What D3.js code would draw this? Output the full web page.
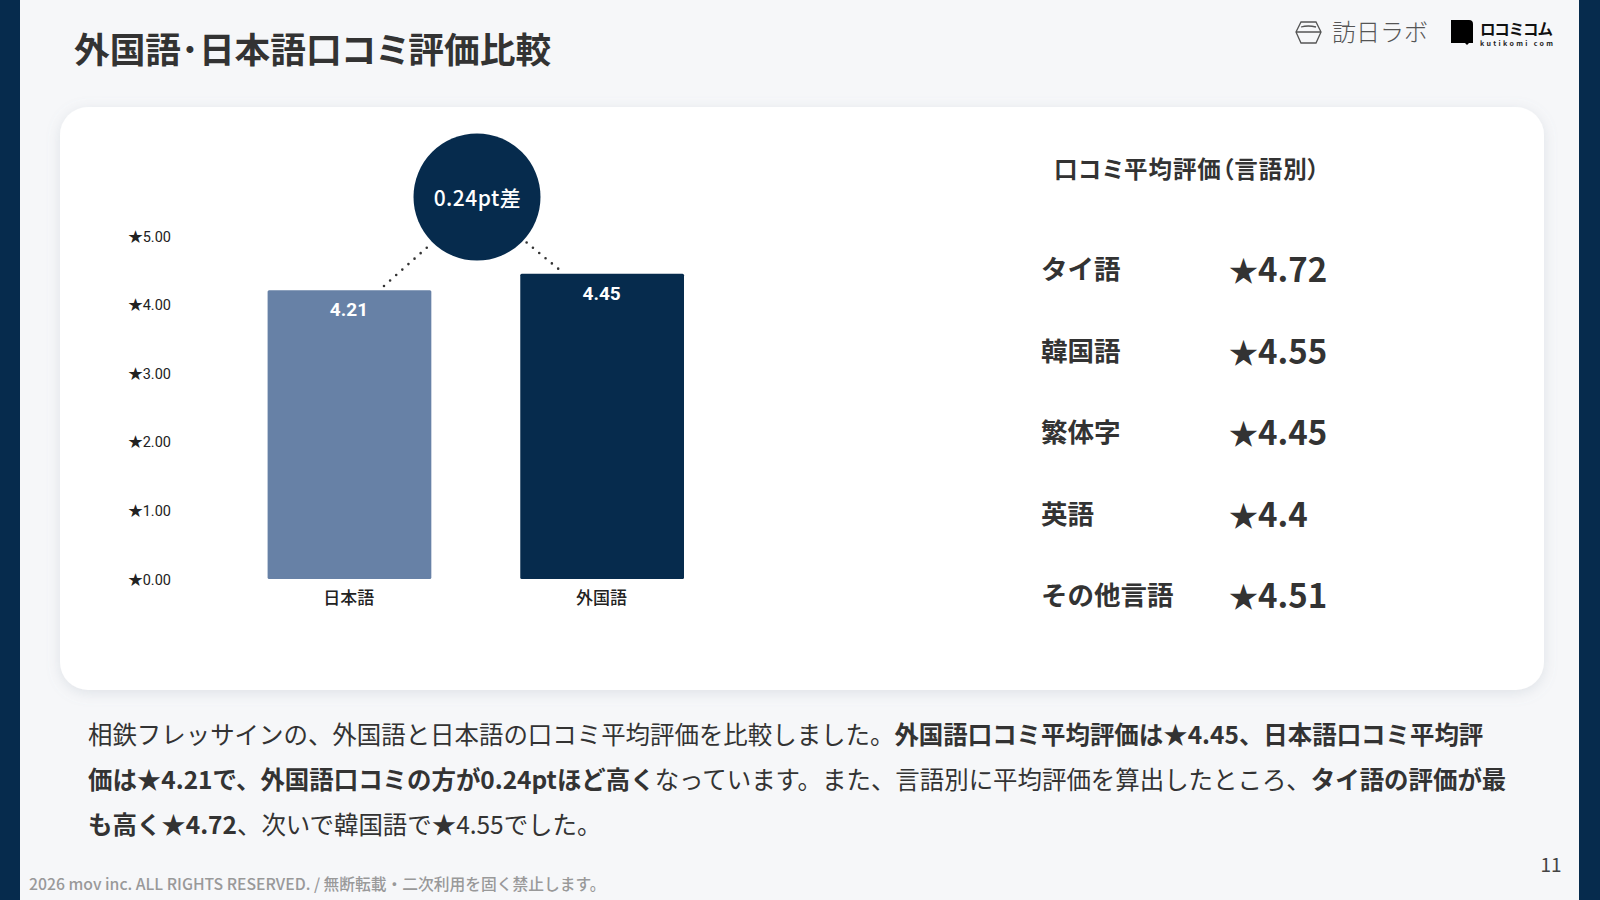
<!DOCTYPE html>
<html lang="ja">
<head>
<meta charset="utf-8">
<script src="https://cdn.jsdelivr.net/npm/d3@7"></script>
<style>
html, body { margin: 0; padding: 0; background: #f6f7f9; overflow: hidden; }
text { font-family: "Noto Sans CJK JP", "Noto Sans", sans-serif; }
</style>
</head>
<body>
<script>
var categories = ["日本語", "外国語"];
var values = [4.21, 4.45];
var yTicks = [0, 1, 2, 3, 4, 5];
var languages = ["タイ語", "韓国語", "繁体字", "英語", "その他言語"];
var languageScores = ["4.72", "4.55", "4.45", "4.4", "4.51"];
var barColors = ["#6781a6", "#062b4d"];
var bodyLines = [
  [["相鉄フレッサインの、外国語と日本語の口コミ平均評価を比較しました。", 400], ["外国語口コミ平均評価は★4.45、日本語口コミ平均評", 700]],
  [["価は★4.21で、外国語口コミの方が0.24ptほど高く", 700], ["なっています。また、言語別に平均評価を算出したところ、", 400], ["タイ語の評価が最", 700]],
  [["も高く★4.72", 700], ["、次いで韓国語で★4.55でした。", 400]]
];

var navy = "#062b4d";

var svg = d3.select("body").append("svg")
  .attr("width", 1600)
  .attr("height", 900)
  .style("display", "block");

var defs = svg.append("defs");
var shadow = defs.append("filter").attr("id", "cardShadow")
  .attr("x", "-5%").attr("y", "-5%").attr("width", "110%").attr("height", "112%");
shadow.append("feDropShadow")
  .attr("dx", 0).attr("dy", 3).attr("stdDeviation", 7)
  .attr("flood-color", "#8a94a6").attr("flood-opacity", 0.22);

// page frame
svg.append("rect").attr("width", 1600).attr("height", 900).attr("fill", "#f6f7f9");
svg.append("rect").attr("width", 20).attr("height", 900).attr("fill", navy);
svg.append("rect").attr("x", 1579).attr("width", 21).attr("height", 900).attr("fill", navy);

svg.append("text")
  .attr("x", 74).attr("y", 63)
  .attr("font-size", 35.7).attr("font-weight", 700).attr("fill", "#333")
  .style("font-feature-settings", "'palt'")
  .text("外国語･日本語口コミ評価比較");

// logos
var logo = svg.append("g");
logo.append("path")
  .attr("d", "M1301 22 L1316 22 L1321 32 L1316 43 L1301 43 L1296 32 Z M1296 32 L1321 32 M1301 27 Q1308 25 1316 27")
  .attr("fill", "none").attr("stroke", "#555").attr("stroke-width", 1.3);
logo.append("text")
  .attr("x", 1332).attr("y", 41)
  .attr("font-size", 24).attr("font-weight", 300).attr("fill", "#555")
  .attr("textLength", 96)
  .text("訪日ラボ");
logo.append("path")
  .attr("d", "M1451 20 L1469 20 Q1473 20 1473 24 L1473 43 L1469 43 L1467 45 L1465 43 L1451 43 Z")
  .attr("fill", "#000");
logo.append("text")
  .attr("x", 1480).attr("y", 35)
  .attr("font-size", 15.5).attr("font-weight", 700).attr("fill", "#111")
  .attr("textLength", 73)
  .text("ロコミコム");
logo.append("text")
  .attr("x", 1480).attr("y", 46)
  .attr("font-size", 7).attr("font-weight", 700).attr("fill", "#222")
  .attr("textLength", 73)
  .text("kutikomi com");

// card
svg.append("rect")
  .attr("x", 60).attr("y", 107).attr("width", 1484).attr("height", 583).attr("rx", 28)
  .attr("fill", "#fff").attr("filter", "url(#cardShadow)");

// chart
var x = d3.scaleBand().domain(categories).range([267.6, 684]).paddingInner(0.352).paddingOuter(0);
var y = d3.scaleLinear().domain([0, 5]).range([579, 236]);

var yAxis = d3.axisLeft(y)
  .tickValues(yTicks)
  .tickSize(0)
  .tickPadding(0)
  .tickFormat(function (d) { return "★" + d.toFixed(2); });

var yG = svg.append("g")
  .attr("transform", "translate(171,0.5)")
  .call(yAxis);
yG.select(".domain").remove();
yG.selectAll("text")
  .attr("font-size", 14.5).attr("fill", "#222")
  .style("font-family", "Roboto, 'Noto Sans CJK JP', sans-serif");

// dotted connectors from the bars up to the badge
var connectors = [
  [[384, 286], [432, 243]],
  [[514, 232], [561, 271]]
];
svg.selectAll("line.connector")
  .data(connectors)
  .enter()
  .append("line")
  .attr("class", "connector")
  .attr("x1", function (d) { return d[0][0]; })
  .attr("y1", function (d) { return d[0][1]; })
  .attr("x2", function (d) { return d[1][0]; })
  .attr("y2", function (d) { return d[1][1]; })
  .attr("stroke", "#333").attr("stroke-width", 2.6)
  .attr("stroke-linecap", "round").attr("stroke-dasharray", "0 8.2");

svg.selectAll("rect.bar")
  .data(values)
  .enter()
  .append("rect")
  .attr("class", "bar")
  .attr("x", function (d, i) { return x(categories[i]); })
  .attr("y", function (d) { return y(d); })
  .attr("width", x.bandwidth())
  .attr("height", function (d) { return y(0) - y(d); })
  .attr("rx", 1.5)
  .attr("fill", function (d, i) { return barColors[i]; });

svg.selectAll("text.barLabel")
  .data(values)
  .enter()
  .append("text")
  .attr("class", "barLabel")
  .attr("x", function (d, i) { return x(categories[i]) + x.bandwidth() / 2 - 0.5; })
  .attr("y", function (d) { return y(d) + 26; })
  .attr("text-anchor", "middle")
  .attr("font-size", 19).attr("font-weight", 700).attr("fill", "#fff")
  .style("font-family", "Roboto, sans-serif")
  .text(function (d) { return d.toFixed(2); });

var xAxis = d3.axisBottom(x).tickSize(0).tickPadding(0);
var xG = svg.append("g")
  .attr("transform", "translate(-0.7,592)")
  .call(xAxis);
xG.select(".domain").remove();
xG.selectAll("text")
  .attr("font-size", 17).attr("font-weight", 500).attr("fill", "#222")
  .style("font-family", "'Noto Sans CJK JP', sans-serif");

svg.append("circle")
  .attr("cx", 477).attr("cy", 197).attr("r", 63.5)
  .attr("fill", navy);
svg.append("text")
  .attr("x", 477.5).attr("y", 206)
  .attr("text-anchor", "middle")
  .attr("font-size", 21).attr("font-weight", 500).attr("fill", "#fff")
  .attr("letter-spacing", 0.5)
  .text("0.24pt差");

// language table
svg.append("text")
  .attr("x", 1054).attr("y", 178)
  .attr("font-size", 23.5).attr("font-weight", 700).attr("fill", "#333")
  .style("font-feature-settings", "'palt'")
  .attr("letter-spacing", 0.9)
  .text("口コミ平均評価（言語別）");

var rowY = d3.scalePoint().domain(languages).range([270, 596]);

svg.selectAll("text.lang")
  .data(languages)
  .enter()
  .append("text")
  .attr("class", "lang")
  .attr("x", 1041)
  .attr("y", function (d) { return rowY(d) + 9; })
  .attr("font-size", 26.5).attr("font-weight", 700).attr("fill", "#333")
  .text(function (d) { return d; });

var scores = svg.selectAll("text.score")
  .data(languageScores)
  .enter()
  .append("text")
  .attr("class", "score")
  .attr("x", 1229)
  .attr("y", function (d, i) { return rowY(languages[i]) + 12; })
  .attr("font-weight", 700).attr("fill", "#333");
scores.append("tspan").attr("font-size", 29).text("★");
scores.append("tspan").attr("font-size", 33).text(function (d) { return d; });

// body copy
bodyLines.forEach(function (line, i) {
  var t = svg.append("text")
    .attr("x", 88).attr("y", 744 + i * 45)
    .attr("font-size", 24.44).attr("fill", "#333");
  line.forEach(function (run) {
    t.append("tspan").attr("font-weight", run[1]).text(run[0]);
  });
});

// footer
svg.append("text")
  .attr("x", 29).attr("y", 890)
  .attr("font-size", 15.75).attr("font-weight", 500).attr("fill", "#999")
  .text("2026 mov inc. ALL RIGHTS RESERVED. / 無断転載・二次利用を固く禁止します。");
svg.append("text")
  .attr("x", 1551).attr("y", 872)
  .attr("text-anchor", "middle")
  .attr("font-size", 19).attr("fill", "#444")
  .text("11");
</script>
</body>
</html>
